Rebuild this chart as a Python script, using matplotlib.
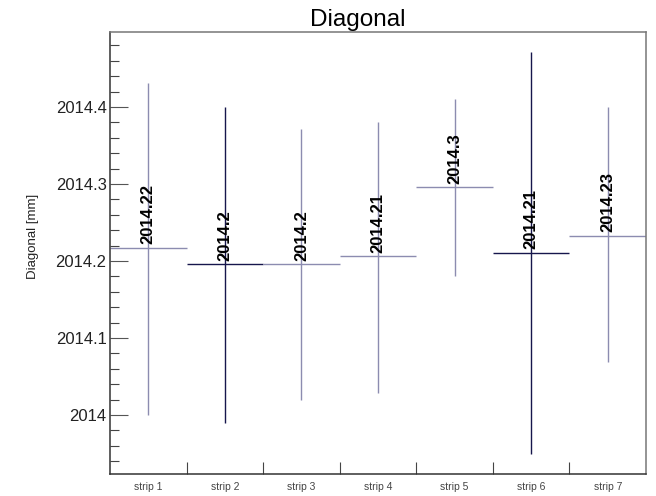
import matplotlib
matplotlib.use('Agg')
import numpy as np
import matplotlib.pyplot as plt
from matplotlib.ticker import MultipleLocator, FuncFormatter, FixedLocator

plt.rcParams['font.family'] = ['Liberation Sans', 'DejaVu Sans']

strips = ['strip 1', 'strip 2', 'strip 3', 'strip 4', 'strip 5', 'strip 6', 'strip 7']
means = [2014.217, 2014.196, 2014.196, 2014.206, 2014.296, 2014.211, 2014.233]
lows = [2014.000, 2013.989, 2014.020, 2014.029, 2014.181, 2013.949, 2014.069]
highs = [2014.431, 2014.400, 2014.371, 2014.380, 2014.411, 2014.471, 2014.400]
dark = [False, True, False, False, False, True, False]

LIGHT = '#8c8cb0'
DARK = '#16164c'

W, H = 656, 496
fig = plt.figure(figsize=(W / 100, H / 100), dpi=100)
ax = fig.add_axes([110 / W, (H - 474) / H, (646 - 110) / W, (474 - 32) / H])

for i, (m, lo, hi, d) in enumerate(zip(means, lows, highs, dark)):
    c = DARK if d else LIGHT
    lw = 1.0
    ax.vlines(i + 0.5, lo, hi, color=c, linewidth=lw)
    ax.hlines(m, i, i + 1, color=c, linewidth=lw)
    ax.annotate(f'{round(m, 2):g}', (i + 0.5, m), xytext=(0, 2.5),
                textcoords='offset points', rotation=90, ha='center', va='bottom',
                fontsize=12, fontweight='bold', color='black')

ax.set_xlim(0, len(strips))
ax.set_ylim(2013.9234, 2014.4974)

# y axis: inward ticks, majors every 0.1, minors every 0.02
ax.yaxis.set_major_locator(MultipleLocator(0.1))
ax.yaxis.set_minor_locator(MultipleLocator(0.02))
ax.yaxis.set_major_formatter(FuncFormatter(lambda v, p: f'{round(v, 1):g}'))
ax.tick_params(axis='y', which='major', direction='in', length=13, width=0.8,
               color='#555555', labelsize=12, labelcolor='#222222', pad=2.5)
ax.tick_params(axis='y', which='minor', direction='in', length=6.5, width=0.8,
               color='#444444')

# x axis: category names at bin centres, short ticks at bin edges
ax.xaxis.set_major_locator(FixedLocator(np.arange(len(strips)) + 0.5))
ax.set_xticklabels(strips)
ax.xaxis.set_minor_locator(FixedLocator(np.arange(1, len(strips))))
ax.tick_params(axis='x', which='major', length=0, labelsize=7.5,
               labelcolor='#444444', pad=6)
ax.tick_params(axis='x', which='minor', direction='in', length=8.6, width=0.8,
               color='#444444')

for side in ['left', 'bottom']:
    ax.spines[side].set_color('#333333')
    ax.spines[side].set_linewidth(1.1)
for side in ['top', 'right']:
    ax.spines[side].set_color('#777777')
    ax.spines[side].set_linewidth(1.1)

ax.set_ylabel('Diagonal [mm]', fontsize=9.5, color='#222222', va='center')
ax.yaxis.set_label_coords((33 - 110) / 536, (474 - 236) / 442)

fig.text(358 / W, 1 - 26 / H, 'Diagonal', ha='center', va='baseline',
         fontsize=17.5, color='black')

fig.savefig('out.png', dpi=100)
